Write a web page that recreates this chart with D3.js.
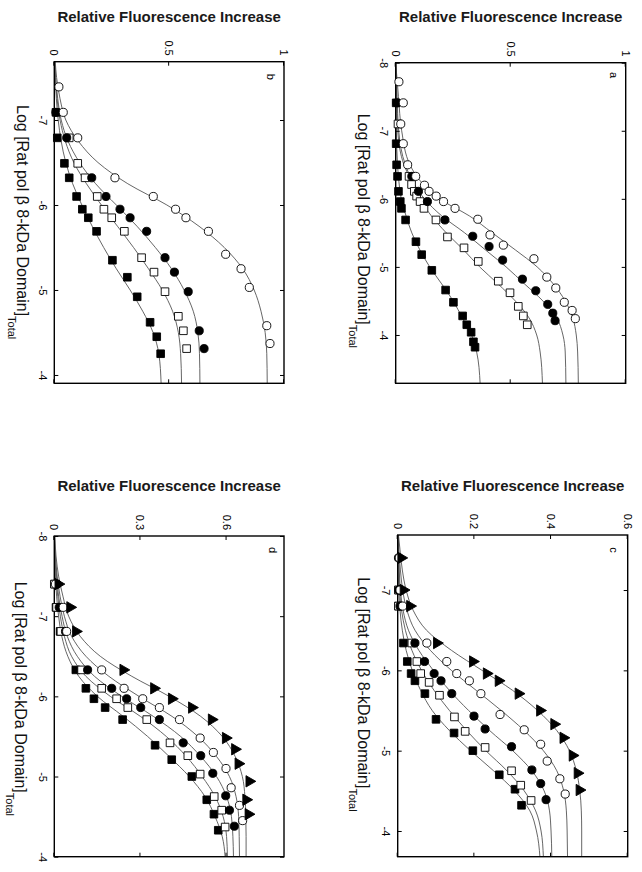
<!DOCTYPE html>
<html><head><meta charset="utf-8">
<script src="https://cdn.jsdelivr.net/npm/d3@7"></script>
<style>body{margin:0;background:#fff}svg{display:block}</style>
</head><body><svg id="chart" width="642" height="872"></svg>
<script>
// ---------- DATA ----------
const yTitle = "Relative Fluorescence Increase";
const xTitleMain = "Log [Rat pol \u03b2 8-kDa Domain]";
const xTitleSub = "Total";

const xTicksA = [-8, -7, -6, -5, -4];
const xTicksB = [-7, -6, -5, -4];
const xTicksC = [-7, -6, -5, -4];
const xTicksD = [-8, -7, -6, -5, -4];
const yTicksA = [0, 0.5, 1];
const yTicksB = [0, 0.5, 1];
const yTicksC = [0, 0.2, 0.4, 0.6];
const yTicksD = [0, 0.3, 0.6];

// panel a points [log conc, fluorescence]
const aOpenCircle = [[-7.72,0.014],[-7.41,0.033],[-7.10,0.022],[-6.81,0.033],[-6.50,0.052],[-6.33,0.087],[-6.20,0.125],[-6.11,0.145],[-6.04,0.176],[-5.96,0.208],[-5.86,0.258],[-5.70,0.357],[-5.47,0.41],[-5.32,0.468],[-5.12,0.601],[-4.85,0.657],[-4.69,0.696],[-4.48,0.733],[-4.36,0.767],[-4.24,0.781]];
const aFilledCircle = [[-7.41,0.005],[-6.33,0.07],[-6.11,0.099],[-5.96,0.138],[-5.69,0.214],[-5.45,0.335],[-5.30,0.406],[-5.10,0.465],[-4.82,0.551],[-4.65,0.609],[-4.45,0.661],[-4.32,0.683],[-4.21,0.693]];
const aOpenSquare = [[-7.10,0.01],[-6.33,0.058],[-6.21,0.069],[-6.11,0.081],[-6.04,0.091],[-5.96,0.106],[-5.86,0.123],[-5.69,0.175],[-5.44,0.225],[-5.28,0.297],[-5.08,0.359],[-4.79,0.446],[-4.62,0.497],[-4.42,0.533],[-4.28,0.555],[-4.15,0.572]];
const aFilledSquare = [[-7.41,0.002],[-6.81,0.002],[-6.50,0.004],[-6.33,0.008],[-6.11,0.012],[-5.96,0.02],[-5.86,0.025],[-5.69,0.043],[-5.37,0.088],[-5.18,0.113],[-4.95,0.157],[-4.66,0.217],[-4.48,0.251],[-4.28,0.291],[-4.15,0.309],[-4.04,0.328],[-3.90,0.338],[-3.82,0.345]];
const aFitX = [-8,-7.5,-7,-6.5,-6.25,-6,-5.75,-5.5,-5.25,-5,-4.75,-4.5,-4.25,-4,-3.75,-3.29];
const aFitOpenCircle = [0,0.012,0.026,0.062,0.11,0.19,0.32,0.42,0.52,0.615,0.685,0.737,0.77,0.785,0.791,0.794];
const aFitFilledCircle = [0,0.006,0.013,0.042,0.075,0.125,0.20,0.30,0.39,0.48,0.56,0.64,0.70,0.727,0.737,0.740];
const aFitOpenSquare = [0,0.004,0.009,0.036,0.07,0.105,0.155,0.22,0.295,0.365,0.445,0.52,0.58,0.613,0.628,0.638];
const aFitFilledSquare = [0,0.002,0.003,0.008,0.014,0.024,0.045,0.07,0.105,0.148,0.20,0.25,0.29,0.33,0.352,0.367];

// panel b
const bOpenCircle = [[-7.39,0.020],[-7.09,0.039],[-6.79,0.102],[-6.32,0.264],[-6.10,0.431],[-5.95,0.528],[-5.85,0.573],[-5.69,0.671],[-5.42,0.746],[-5.25,0.813],[-5.03,0.849],[-4.58,0.925],[-4.37,0.939]];
const bFilledCircle = [[-7.09,0.007],[-6.79,0.054],[-6.32,0.163],[-6.10,0.225],[-5.95,0.286],[-5.85,0.330],[-5.69,0.402],[-5.38,0.482],[-5.21,0.523],[-4.98,0.583],[-4.52,0.631],[-4.31,0.652]];
const bOpenSquare = [[-6.79,0.065],[-6.49,0.102],[-6.32,0.134],[-6.10,0.187],[-5.95,0.216],[-5.85,0.250],[-5.69,0.305],[-5.38,0.380],[-5.21,0.434],[-4.98,0.482],[-4.69,0.540],[-4.52,0.562],[-4.31,0.576]];
const bFilledSquare = [[-7.09,0.007],[-6.79,0.013],[-6.49,0.044],[-6.32,0.065],[-6.10,0.097],[-5.95,0.122],[-5.85,0.148],[-5.69,0.184],[-5.35,0.253],[-5.15,0.318],[-4.92,0.361],[-4.62,0.417],[-4.45,0.446],[-4.25,0.463]];
const bFitX = [-7.69,-7.5,-7.25,-7,-6.75,-6.5,-6.25,-6,-5.75,-5.5,-5.25,-5,-4.75,-4.5,-4.25,-3.9];
const bFitOpenCircle = [0.004,0.01,0.025,0.05,0.105,0.19,0.32,0.49,0.63,0.74,0.82,0.87,0.90,0.918,0.925,0.927];
const bFitFilledCircle = [0.002,0.006,0.015,0.03,0.06,0.11,0.18,0.27,0.36,0.44,0.51,0.565,0.605,0.625,0.632,0.634];
const bFitOpenSquare = [0.002,0.005,0.012,0.025,0.048,0.085,0.14,0.205,0.275,0.345,0.41,0.47,0.515,0.54,0.55,0.554];
const bFitFilledSquare = [0.001,0.004,0.009,0.017,0.03,0.05,0.08,0.12,0.165,0.215,0.27,0.33,0.385,0.43,0.455,0.465];

// panel c
const cTriangle = [[-7.40,0.009],[-7.0,0.015],[-6.80,0.032],[-6.34,0.102],[-6.11,0.196],[-5.96,0.232],[-5.87,0.263],[-5.71,0.315],[-5.50,0.371],[-5.33,0.408],[-5.16,0.432],[-4.94,0.456],[-4.72,0.469],[-4.51,0.474]];
const cOpenCircle = [[-7.40,0.004],[-7.0,0.006],[-6.80,0.013],[-6.34,0.076],[-6.11,0.128],[-5.96,0.154],[-5.87,0.187],[-5.71,0.217],[-5.45,0.267],[-5.26,0.330],[-5.08,0.373],[-4.87,0.390],[-4.65,0.423],[-4.46,0.437]];
const cFilledCircle = [[-7.40,0.002],[-7.0,0.003],[-6.80,0.006],[-6.34,0.045],[-6.11,0.070],[-5.96,0.095],[-5.87,0.113],[-5.71,0.141],[-5.43,0.199],[-5.27,0.228],[-5.05,0.297],[-4.76,0.350],[-4.59,0.373],[-4.39,0.387]];
const cOpenSquare = [[-7.0,0.002],[-6.80,0.002],[-6.34,0.037],[-6.11,0.050],[-5.96,0.060],[-5.85,0.082],[-5.69,0.109],[-5.42,0.148],[-5.24,0.176],[-5.04,0.228],[-4.75,0.297],[-4.57,0.321],[-4.38,0.348]];
const cFilledSquare = [[-7.0,0.002],[-6.80,0.002],[-6.34,0.015],[-6.11,0.025],[-5.96,0.035],[-5.87,0.045],[-5.71,0.071],[-5.39,0.100],[-5.22,0.147],[-5.0,0.196],[-4.70,0.265],[-4.52,0.306],[-4.32,0.323]];
const cFitX = [-7.685,-7.5,-7.25,-7,-6.75,-6.5,-6.25,-6,-5.75,-5.5,-5.25,-5,-4.75,-4.5,-4.25,-4,-3.68];
const cFitTriangle = [0.002,0.006,0.012,0.022,0.04,0.075,0.14,0.22,0.30,0.365,0.415,0.448,0.466,0.475,0.479,0.48,0.48];
const cFitOpenCircle = [0.001,0.003,0.007,0.013,0.024,0.045,0.085,0.14,0.205,0.27,0.33,0.38,0.415,0.433,0.44,0.442,0.443];
const cFitFilledCircle = [0.001,0.002,0.004,0.007,0.014,0.028,0.055,0.093,0.135,0.185,0.24,0.30,0.35,0.382,0.396,0.40,0.402];
const cFitOpenSquare = [0,0.001,0.003,0.005,0.01,0.02,0.037,0.062,0.095,0.135,0.18,0.23,0.285,0.33,0.36,0.374,0.38];
const cFitFilledSquare = [0,0,0.001,0.003,0.006,0.012,0.022,0.038,0.06,0.09,0.135,0.19,0.25,0.305,0.345,0.362,0.371];

// panel d
const dTriangle = [[-7.40,0.014],[-7.11,0.055],[-6.81,0.075],[-6.33,0.240],[-6.10,0.347],[-5.97,0.409],[-5.86,0.479],[-5.71,0.548],[-5.48,0.597],[-5.34,0.629],[-5.16,0.641],[-4.94,0.679],[-4.71,0.668],[-4.53,0.676]];
const dOpenCircle = [[-7.40,0.004],[-7.11,0.031],[-6.81,0.043],[-6.33,0.165],[-6.10,0.243],[-5.97,0.308],[-5.86,0.366],[-5.71,0.436],[-5.48,0.508],[-5.30,0.554],[-5.10,0.598],[-4.86,0.616],[-4.64,0.645],[-4.45,0.656]];
const dFilledCircle = [[-7.40,0.010],[-7.11,0.017],[-6.81,0.039],[-6.33,0.116],[-6.10,0.200],[-5.97,0.252],[-5.86,0.301],[-5.71,0.366],[-5.42,0.449],[-5.26,0.510],[-5.04,0.552],[-4.76,0.597],[-4.58,0.610],[-4.38,0.627]];
const dOpenSquare = [[-7.40,0.0],[-7.11,0.008],[-6.81,0.023],[-6.33,0.095],[-6.10,0.165],[-5.97,0.217],[-5.86,0.256],[-5.71,0.322],[-5.42,0.403],[-5.26,0.465],[-5.03,0.508],[-4.75,0.557],[-4.58,0.583],[-4.37,0.595]];
const dFilledSquare = [[-7.40,0.002],[-7.11,0.006],[-6.81,0.020],[-6.33,0.075],[-6.10,0.110],[-5.97,0.138],[-5.86,0.177],[-5.71,0.238],[-5.39,0.351],[-5.21,0.409],[-5.0,0.479],[-4.71,0.531],[-4.53,0.556],[-4.33,0.571]];
const dFitX = [-8,-7.75,-7.5,-7.25,-7,-6.75,-6.5,-6.25,-6,-5.75,-5.5,-5.25,-5,-4.75,-4.5,-4.25,-4];
const dFitTriangle = [0.002,0.006,0.015,0.03,0.05,0.09,0.16,0.27,0.40,0.51,0.585,0.63,0.655,0.664,0.667,0.668,0.668];
const dFitOpenCircle = [0.001,0.004,0.01,0.02,0.035,0.06,0.11,0.19,0.295,0.41,0.50,0.565,0.61,0.633,0.642,0.644,0.645];
const dFitFilledCircle = [0.001,0.003,0.008,0.015,0.027,0.045,0.08,0.14,0.235,0.345,0.44,0.51,0.565,0.60,0.617,0.622,0.624];
const dFitOpenSquare = [0,0.002,0.006,0.012,0.021,0.035,0.06,0.11,0.195,0.30,0.39,0.46,0.515,0.56,0.588,0.60,0.603];
const dFitFilledSquare = [0,0.002,0.004,0.008,0.015,0.026,0.047,0.085,0.15,0.24,0.325,0.40,0.47,0.525,0.56,0.585,0.595];

// ---------- LAYOUT ----------
const FONT = "'Liberation Sans', Arial, Helvetica, sans-serif";
const panels = [
  {letter:"a", left:395.7, top:62.7, right:625.7, bottom:383.3, xDomain:[-8,-3.29], yDomain:[0,1],
   xTicks:xTicksA, yTicks:yTicksA, titleU:-40.4, xTitleStart:51, xTitleV:37.3, letterPos:[12.3,16],
   fitX:aFitX,
   series:[
     {pts:aFilledSquare, fit:aFitFilledSquare, shape:"fs"},
     {pts:aOpenSquare, fit:aFitOpenSquare, shape:"os"},
     {pts:aFilledCircle, fit:aFitFilledCircle, shape:"fc"},
     {pts:aOpenCircle, fit:aFitOpenCircle, shape:"oc"}]},
  {letter:"b", left:54.3, top:61.7, right:284, bottom:383.3, xDomain:[-7.686,-3.902], yDomain:[0,1],
   xTicks:xTicksB, yTicks:yTicksB, titleU:-39.4, xTitleStart:43.3, xTitleV:37.6, letterPos:[15,17],
   fitX:bFitX,
   series:[
     {pts:bFilledSquare, fit:bFitFilledSquare, shape:"fs"},
     {pts:bOpenSquare, fit:bFitOpenSquare, shape:"os"},
     {pts:bFilledCircle, fit:bFitFilledCircle, shape:"fc"},
     {pts:bOpenCircle, fit:bFitOpenCircle, shape:"oc"}]},
  {letter:"c", left:397.7, top:535, right:627.7, bottom:856.7, xDomain:[-7.685,-3.68], yDomain:[0,0.6],
   xTicks:xTicksC, yTicks:yTicksC, titleU:-44.3, xTitleStart:42.3, xTitleV:39.4, letterPos:[15,17.4],
   fitX:cFitX,
   series:[
     {pts:cFilledSquare, fit:cFitFilledSquare, shape:"fs"},
     {pts:cOpenSquare, fit:cFitOpenSquare, shape:"os"},
     {pts:cFilledCircle, fit:cFitFilledCircle, shape:"fc"},
     {pts:cOpenCircle, fit:cFitOpenCircle, shape:"oc"},
     {pts:cTriangle, fit:cFitTriangle, shape:"ft"}]},
  {letter:"d", left:54.3, top:536, right:284, bottom:856.7, xDomain:[-8,-4], yDomain:[0,0.8],
   xTicks:xTicksD, yTicks:yTicksD, titleU:-45.3, xTitleStart:45.7, xTitleV:39.3, letterPos:[14,15.3],
   fitX:dFitX,
   series:[
     {pts:dFilledSquare, fit:dFitFilledSquare, shape:"fs"},
     {pts:dOpenSquare, fit:dFitOpenSquare, shape:"os"},
     {pts:dFilledCircle, fit:dFitFilledCircle, shape:"fc"},
     {pts:dOpenCircle, fit:dFitOpenCircle, shape:"oc"},
     {pts:dTriangle, fit:dFitTriangle, shape:"ft"}]}
];

const shapeStyle = {
  oc:{type:d3.symbolCircle, size:52, fill:"#fff"},
  fc:{type:d3.symbolCircle, size:52, fill:"#000"},
  os:{type:d3.symbolSquare, size:58, fill:"#fff"},
  fs:{type:d3.symbolSquare, size:58, fill:"#000"},
  ft:{type:d3.symbolTriangle, size:56, fill:"#000"}
};

const svg = d3.select("#chart");

panels.forEach((p, i) => {
  const W = p.bottom - p.top;
  const H = p.right - p.left;
  const g = svg.append("g")
    .attr("transform", `translate(${p.right},${p.top}) rotate(90)`);
  const x = d3.scaleLinear().domain(p.xDomain).range([0, W]);
  const y = d3.scaleLinear().domain(p.yDomain).range([H, 0]);

  const clipId = "clip" + i;
  g.append("clipPath").attr("id", clipId)
    .append("rect").attr("x", 0).attr("y", 0).attr("width", W).attr("height", H);

  // fitted curves
  const line = d3.line().x(d => x(d[0])).y(d => y(d[1])).curve(d3.curveMonotoneX);
  const cg = g.append("g").attr("clip-path", `url(#${clipId})`);
  p.series.forEach(s => {
    const pts = p.fitX.map((xv, k) => [xv, s.fit[k]]);
    cg.append("path").attr("d", line(pts))
      .attr("fill", "none").attr("stroke", "#555").attr("stroke-width", 0.9);
  });

  // axes (inward ticks on all four sides)
  const fmt = d => String(d);
  const axB = g.append("g").attr("transform", `translate(0,${H})`)
    .call(d3.axisBottom(x).tickValues(p.xTicks).tickSizeInner(-4).tickSizeOuter(0).tickPadding(7.5).tickFormat(fmt));
  const axT = g.append("g")
    .call(d3.axisTop(x).tickValues(p.xTicks).tickSizeInner(-4).tickSizeOuter(0).tickFormat(""));
  const axL = g.append("g")
    .call(d3.axisLeft(y).tickValues(p.yTicks).tickSizeInner(-4).tickSizeOuter(0).tickPadding(6).tickFormat(fmt));
  const axR = g.append("g").attr("transform", `translate(${W},0)`)
    .call(d3.axisRight(y).tickValues(p.yTicks).tickSizeInner(-4).tickSizeOuter(0).tickFormat(""));
  [axB, axT, axL, axR].forEach(a => {
    a.select(".domain").remove();
    a.selectAll(".tick line").attr("stroke", "#000").attr("stroke-width", 1);
    a.selectAll("text").attr("font-family", FONT).attr("font-size", 11).attr("fill", "#000");
  });

  // frame
  g.append("rect").attr("x", 0).attr("y", 0).attr("width", W).attr("height", H)
    .attr("fill", "none").attr("stroke", "#000").attr("stroke-width", 1.4);

  // markers
  p.series.forEach(s => {
    const st = shapeStyle[s.shape];
    const sym = d3.symbol().type(st.type).size(st.size);
    g.append("g").selectAll("path").data(s.pts).join("path")
      .attr("transform", d => `translate(${x(d[0])},${y(d[1])})`)
      .attr("d", sym())
      .attr("fill", st.fill).attr("stroke", "#000").attr("stroke-width", 0.9);
  });

  // y-axis title (appears horizontal after rotation)
  g.append("text")
    .attr("transform", `translate(${p.titleU},${H / 2}) rotate(-90)`)
    .attr("text-anchor", "middle")
    .attr("font-family", FONT).attr("font-weight", "bold").attr("font-size", 15)
    .attr("fill", "#1a1a1a")
    .text(yTitle);

  // x-axis title with subscript
  const xt = g.append("text")
    .attr("x", p.xTitleStart).attr("y", H + p.xTitleV)
    .attr("font-family", FONT).attr("font-size", 16).attr("fill", "#111");
  xt.append("tspan").text(xTitleMain);
  xt.append("tspan").attr("font-size", 11).attr("dy", 9).text(xTitleSub);

  // panel letter
  g.append("text")
    .attr("x", p.letterPos[0]).attr("y", p.letterPos[1])
    .attr("text-anchor", "middle")
    .attr("font-family", FONT).attr("font-size", 11).attr("fill", "#000")
    .text(p.letter);
});
</script>
</body></html>
